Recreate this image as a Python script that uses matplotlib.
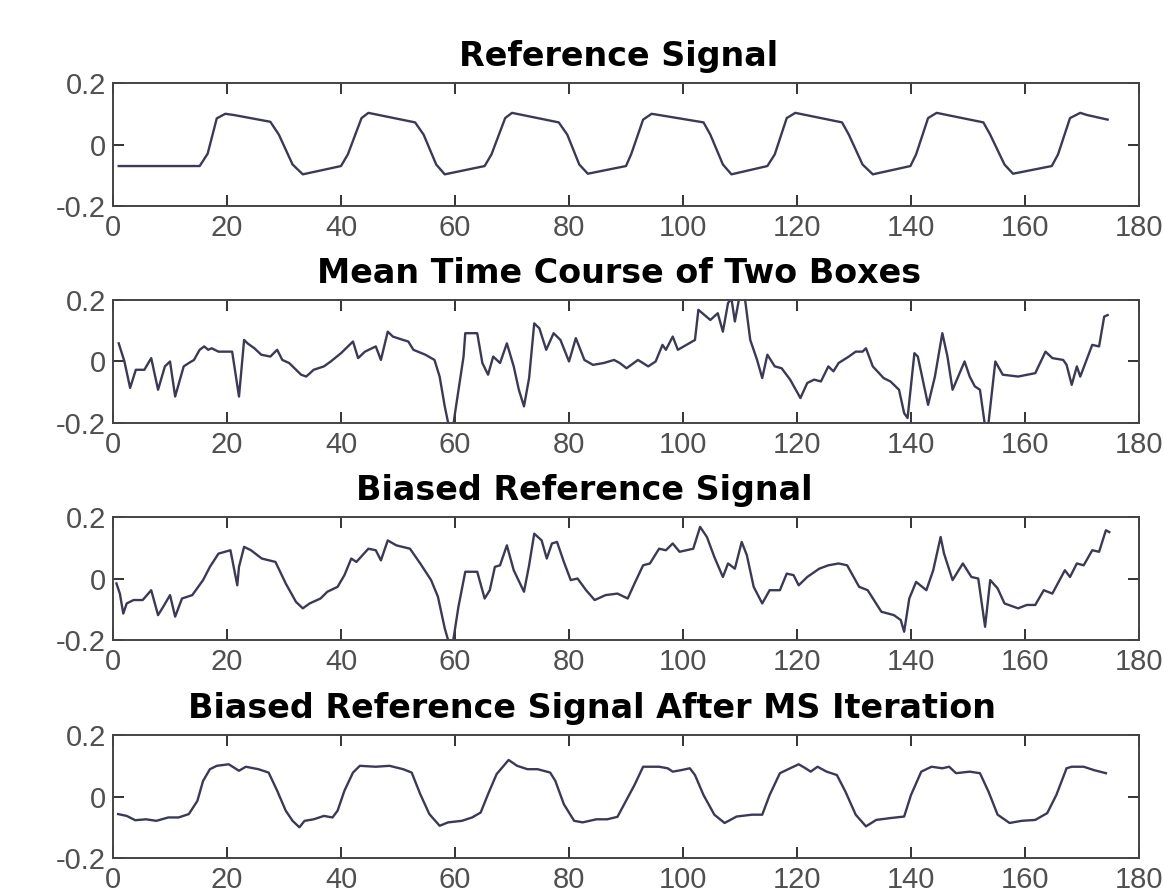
import matplotlib
matplotlib.use('Agg')
import matplotlib.pyplot as plt

# --- signals (time in scans) ---

ref_t = [1, 15.2, 16.6, 18.2, 19.7, 21.2, 27.6, 29.1, 31.5, 33.3, 40.0, 41.2, 43.6, 44.8,
         53.0, 54.5, 56.7, 58.2, 65.2, 66.4, 68.8, 70.0, 78.2, 79.7, 81.8, 83.3, 90.0, 90.9,
         93.0, 94.5, 95.8, 103.6, 104.8, 107.0, 108.5, 114.8, 116.1, 118.2, 119.7, 127.9,
         129.1, 131.5, 133.3, 139.9, 140.9, 143.0, 144.5, 152.7, 153.9, 156.4, 157.9, 164.7,
         165.8, 167.9, 169.7, 170.9, 174.5]
ref_v = [-0.070, -0.070, -0.030, 0.085, 0.100, 0.096, 0.074, 0.032, -0.065, -0.097, -0.070,
         -0.032, 0.086, 0.103, 0.072, 0.032, -0.065, -0.097, -0.070, -0.032, 0.086, 0.103,
         0.072, 0.032, -0.065, -0.095, -0.070, -0.032, 0.081, 0.100, 0.096, 0.072, 0.032,
         -0.065, -0.097, -0.070, -0.032, 0.086, 0.103, 0.072, 0.032, -0.065, -0.097, -0.070,
         -0.032, 0.086, 0.103, 0.072, 0.032, -0.065, -0.095, -0.070, -0.032, 0.086, 0.103,
         0.096, 0.081]

mean_t = [1, 2, 3, 4, 5.5, 6.7, 7.9, 9.1, 10, 10.9, 12.4, 13.3, 14.2, 15.2, 16, 16.7, 17.3,
          18.5, 20.9, 22.1, 23, 23.6, 24.8, 26, 27.6, 28.8, 29.7, 30.9, 33, 33.9, 35.2, 37,
          38.2, 40, 41.2, 42.1, 43, 44.2, 46.1, 47, 48.2, 49.1, 50.9, 51.8, 52.7, 54.8, 56.4,
          57.3, 58.2, 58.8, 59.4, 60, 60.9, 61.5, 61.8, 63.9, 64.8, 65.8, 66.7, 67.9, 69.1,
          70.3, 71.2, 72.1, 73, 73.9, 74.8, 76, 77.3, 78.5, 80, 81.2, 82.7, 84.2, 86.1, 87.9,
          88.9, 90.1, 92.1, 93.9, 95.2, 96.4, 97, 98.2, 99.1, 100.6, 102.1, 102.7, 104.8,
          106.1, 107, 107.9, 108.5, 109.1, 110, 110.9, 111.8, 113, 113.9, 114.8, 116.1, 117.3,
          118.8, 120.6, 121.8, 123, 124.2, 125.5, 126.4, 127.3, 129.1, 130.3, 131.5, 132.1,
          133.3, 135.2, 136.4, 137.9, 138.8, 139.4, 140.6, 141.2, 143, 144.2, 145.5, 146.4,
          147.3, 149.4, 150.3, 151.2, 152.1, 153, 153.6, 154.8, 156.1, 158.8, 161.8, 163.6,
          164.8, 166.7, 167.3, 168.2, 169.1, 169.7, 170.6, 171.8, 173, 173.9, 174.5]
mean_v = [0.059, 0.000, -0.086, -0.027, -0.027, 0.011, -0.092, -0.016, 0.000, -0.114, -0.016,
          -0.005, 0.005, 0.038, 0.049, 0.038, 0.043, 0.032, 0.032, -0.114, 0.070, 0.059,
          0.043, 0.022, 0.016, 0.038, 0.005, -0.005, -0.043, -0.049, -0.027, -0.016, 0.000,
          0.027, 0.049, 0.065, 0.011, 0.032, 0.049, 0.005, 0.097, 0.081, 0.070, 0.065, 0.038,
          0.022, 0.005, -0.049, -0.146, -0.200, -0.250, -0.168, -0.059, 0.016, 0.092, 0.092,
          -0.005, -0.043, 0.016, -0.005, 0.059, -0.016, -0.092, -0.146, -0.054, 0.124, 0.108,
          0.038, 0.092, 0.070, 0.000, 0.076, 0.005, -0.011, -0.005, 0.005, -0.005, -0.022,
          0.005, -0.016, 0.000, 0.054, 0.038, 0.081, 0.038, 0.054, 0.070, 0.168, 0.135, 0.157,
          0.097, 0.190, 0.205, 0.130, 0.220, 0.200, 0.070, 0.005, -0.054, 0.022, -0.016,
          -0.022, -0.059, -0.119, -0.070, -0.059, -0.065, -0.016, -0.032, -0.005, 0.016, 0.032,
          0.032, 0.043, -0.016, -0.054, -0.065, -0.092, -0.168, -0.184, 0.027, 0.016, -0.141,
          -0.049, 0.092, 0.016, -0.092, 0.000, -0.049, -0.081, -0.092, -0.211, -0.200, 0.000,
          -0.043, -0.049, -0.038, 0.032, 0.011, 0.005, -0.011, -0.076, -0.016, -0.049, -0.005,
          0.054, 0.049, 0.146, 0.151]

biased_t = [0.6, 1.2, 1.8, 2.4, 3.6, 5.2, 6.7, 7.9, 8.8, 10, 10.9, 12.1, 13.9, 15.8, 17, 18.5,
            20.6, 21.8, 22.1, 23, 24.2, 26.1, 28.5, 30.3, 32.1, 33.3, 34.5, 36.4, 37.6, 39.4,
            40.6, 41.8, 42.7, 44.8, 46.1, 47, 48.2, 49.7, 52.1, 53.9, 55.8, 57, 58.2, 58.8,
            59.1, 59.7, 60.6, 61.8, 63.9, 65.2, 66.1, 67, 67.9, 69.1, 70.3, 72.1, 73, 73.9,
            75.2, 76.1, 77, 77.9, 79.1, 80.3, 81.5, 83, 84.5, 86.4, 88.5, 90.3, 91.5, 93, 94.2,
            95.8, 97, 98.2, 99.4, 101.8, 103, 104.2, 105.5, 107, 107.9, 109.1, 110.3, 111.2,
            112.4, 113.9, 115.2, 117, 118.2, 119.4, 120.3, 121.8, 123.9, 125.5, 127.3, 128.8,
            130.9, 132.4, 134.8, 137, 138.2, 138.8, 139.7, 140.9, 142.7, 143.9, 145.2, 145.8,
            147.3, 149.1, 150.6, 151.8, 153, 153.9, 155.2, 156.4, 158.8, 160.3, 161.8, 163.3,
            164.8, 167, 167.9, 169.1, 170.3, 171.8, 173, 174.2, 174.8]
biased_v = [-0.016, -0.049, -0.114, -0.081, -0.070, -0.070, -0.038, -0.119, -0.092, -0.054,
            -0.124, -0.065, -0.054, -0.005, 0.038, 0.081, 0.092, -0.022, 0.038, 0.103, 0.092,
            0.065, 0.054, -0.016, -0.076, -0.097, -0.081, -0.065, -0.043, -0.027, 0.011,
            0.065, 0.054, 0.097, 0.092, 0.059, 0.124, 0.108, 0.097, 0.049, -0.005, -0.059,
            -0.162, -0.200, -0.220, -0.200, -0.092, 0.022, 0.022, -0.065, -0.038, 0.038, 0.043,
            0.108, 0.027, -0.043, 0.043, 0.146, 0.124, 0.065, 0.114, 0.119, 0.054, -0.005,
            0.000, -0.038, -0.070, -0.054, -0.049, -0.065, -0.016, 0.043, 0.049, 0.097, 0.092,
            0.114, 0.087, 0.097, 0.168, 0.135, 0.070, 0.005, 0.049, 0.032, 0.119, 0.076,
            -0.027, -0.081, -0.038, -0.038, 0.016, 0.011, -0.022, 0.005, 0.032, 0.043, 0.049,
            0.043, -0.027, -0.038, -0.108, -0.119, -0.135, -0.173, -0.065, -0.011, -0.038,
            0.027, 0.135, 0.081, -0.005, 0.049, 0.005, 0.000, -0.157, -0.005, -0.032, -0.081,
            -0.097, -0.086, -0.086, -0.038, -0.049, 0.027, 0.005, 0.049, 0.043, 0.092, 0.087,
            0.157, 0.151]

ms_t = [0.9, 2.4, 3.9, 5.8, 7.6, 9.7, 11.5, 13.3, 14.8, 15.8, 17, 18.2, 20.3, 22.1, 23.3, 25.5,
        27.3, 28.8, 30.3, 31.5, 32.7, 33.6, 35.2, 37, 38.5, 39.4, 40.6, 42.1, 43.3, 46.1, 48.5,
        50.9, 52.4, 53.9, 55.5, 57.3, 58.8, 61.2, 63, 64.5, 65.8, 67.3, 69.4, 70.9, 72.7, 74.5,
        76.7, 77.6, 79.1, 80.9, 82.4, 84.8, 86.7, 88.5, 90, 91.5, 93, 95.8, 97.3, 98.2, 99.7,
        101.2, 102.1, 103.6, 105.5, 107.3, 109.4, 112.1, 113.9, 115.2, 117, 118.8, 120.3,
        121.5, 122.4, 123.6, 125.2, 127, 128.5, 130.3, 132.1, 133.9, 136.4, 138.8, 140, 141.8,
        143.6, 145.5, 146.7, 147.9, 150.3, 152.1, 153.6, 155.2, 157.3, 159.4, 161.8, 163.9,
        165.5, 167.3, 168.2, 170.3, 172.1, 174.2]
ms_v = [-0.057, -0.063, -0.077, -0.074, -0.079, -0.068, -0.068, -0.057, -0.014, 0.051, 0.089,
        0.100, 0.105, 0.084, 0.097, 0.089, 0.078, 0.019, -0.046, -0.079, -0.100, -0.079,
        -0.074, -0.063, -0.068, -0.046, 0.019, 0.078, 0.100, 0.097, 0.100, 0.089, 0.078,
        0.008, -0.057, -0.095, -0.084, -0.079, -0.068, -0.052, 0.008, 0.073, 0.119, 0.100,
        0.089, 0.089, 0.078, 0.051, -0.025, -0.079, -0.084, -0.074, -0.074, -0.066, -0.014,
        0.038, 0.097, 0.097, 0.092, 0.081, 0.086, 0.092, 0.070, 0.005, -0.059, -0.086, -0.065,
        -0.059, -0.059, 0.005, 0.076, 0.092, 0.105, 0.092, 0.081, 0.097, 0.081, 0.070, 0.016,
        -0.059, -0.097, -0.076, -0.070, -0.065, 0.005, 0.081, 0.097, 0.092, 0.097, 0.076,
        0.081, 0.076, 0.016, -0.059, -0.086, -0.079, -0.076, -0.054, 0.005, 0.092, 0.097,
        0.097, 0.086, 0.076]

titles = ['Reference Signal', 'Mean Time Course of Two Boxes',
          'Biased Reference Signal', 'Biased Reference Signal After MS Iteration']
series = [(ref_t, ref_v), (mean_t, mean_v), (biased_t, biased_v), (ms_t, ms_v)]

xticks = [0, 20, 40, 60, 80, 100, 120, 140, 160, 180]
yticks = [-0.2, 0, 0.2]
ytick_labels = ['-0.2', '0', '0.2']

fig = plt.figure(figsize=(11.64, 8.91), dpi=100)

bottoms = [0.7688, 0.5253, 0.2817, 0.037]
# horizontal centre of each title, in axes fraction
title_x = [0.493, 0.493, 0.459, 0.467]
for i in range(4):
    ax = fig.add_axes([0.0971, bottoms[i], 0.8814, 0.138])
    t, v = series[i]
    ax.plot(t, v, color='#3a3a58', linewidth=1.7)
    ax.set_xlim(0, 180)
    ax.set_ylim(-0.2, 0.2)
    ax.set_xticks(xticks)
    ax.set_xticklabels([str(x) for x in xticks])
    ax.set_yticks(yticks)
    ax.set_yticklabels(ytick_labels)
    ax.tick_params(direction='in', length=8, width=1.4, color='#333333',
                   top=True, right=True, labelsize=21, labelcolor='#505050')
    ax.tick_params(axis='x', pad=6)
    ax.tick_params(axis='y', pad=5)
    for lab in ax.get_xticklabels() + ax.get_yticklabels():
        lab.set_fontfamily('Liberation Sans')
    for sp in ax.spines.values():
        sp.set_color('#444444')
        sp.set_linewidth(1.4)
    ttl = ax.set_title(titles[i], fontsize=24, fontweight='bold', family='DejaVu Sans', pad=12)
    ttl.set_x(title_x[i])

fig.savefig('out.png', dpi=100)
